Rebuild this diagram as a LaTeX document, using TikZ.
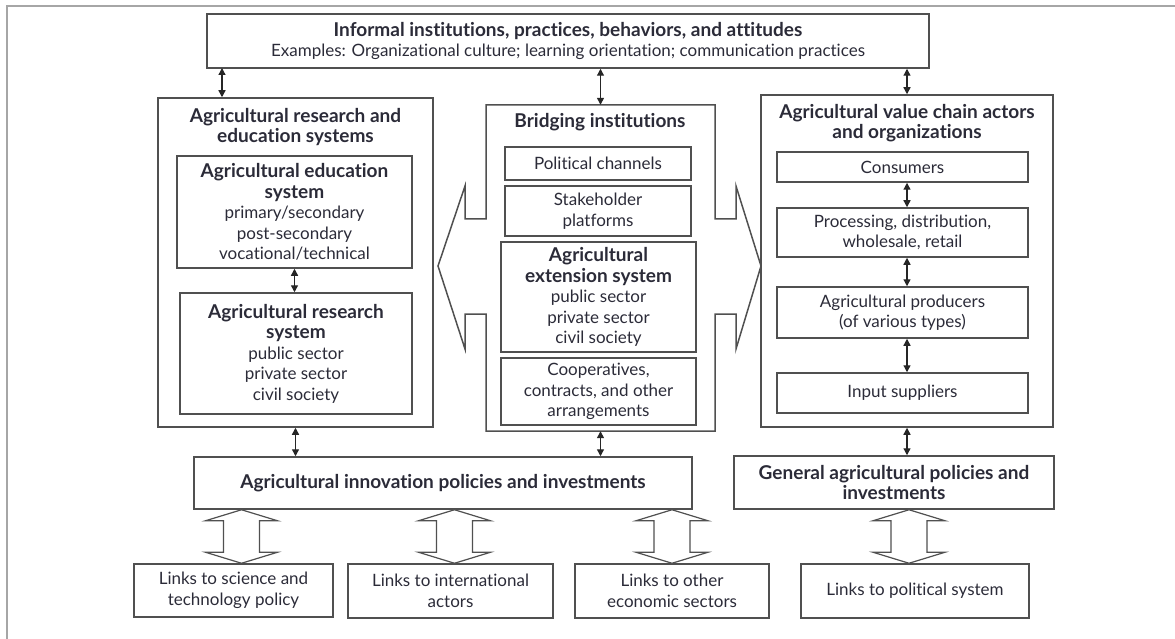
\documentclass[tikz,border=0pt]{standalone}
\usepackage{fontspec}
\setmainfont{Lato}[Ligatures=NoCommon,BoldFeatures={Scale=1.12}]
\usetikzlibrary{arrows.meta,calc}
\definecolor{ink}{HTML}{2B2B38}
\definecolor{edgegray}{HTML}{505050}

\begin{document}
\begin{tikzpicture}[x=1pt,y=-1pt,font=\fontsize{17}{20.5}\selectfont,text=ink]
            \tikzstyle{box} = [draw=edgegray,line width=1.5,inner sep=0,align=center]
            \tikzstyle{title} = [inner sep=0,align=center,font=\fontsize{17}{20.5}\selectfont\bfseries]
            \tikzstyle{dbl} = [draw=black!85,line width=1.3,{Triangle[length=7pt,width=7pt]}-{Triangle[length=7pt,width=7pt]}]
            \tikzstyle{hollow} = [draw=edgegray,line width=1.2,fill=white]
            
            \useasboundingbox (0,0) rectangle (1175,639);
            \draw[gray!70,line width=2.5] (7,639) -- (7,6) -- (1175,6);
            
            \node[box,minimum width=722,minimum height=54] (inf) at (568,41) {\textbf{Informal institutions, practices, behaviors, and attitudes}\\Examples: Organizational culture; learning orientation; communication practices};
            
            \node[box,minimum width=275,minimum height=329] (res) at (295.5,262.5) {};
            \node[title] (restitle) at (295.5,127) {Agricultural research and\\education systems};
            \node[box,minimum width=235,minimum height=112] (edu) at (294.5,212) {\textbf{Agricultural education}\\\textbf{system}\\primary/secondary\\post-secondary\\vocational/technical};
            \node[box,minimum width=232,minimum height=121] (rsys) at (296,353.5) {\textbf{Agricultural research}\\\textbf{system}\\public sector\\private sector\\civil society};
            
            \node[minimum width=229,minimum height=326,inner sep=0] (bri) at (600.5,268) {};
            \draw[edgegray,line width=1.5] (486,105) -- (715,105) -- (715,219) -- (736,219) -- (736,186) -- (761,266) -- (736,349) -- (736,314) -- (715,314) -- (715,431) -- (486,431) -- (486,314) -- (465,314) -- (465,349) -- (438,266) -- (465,186) -- (465,219) -- (486,219) -- cycle;
            \node[title] (brititle) at (600,122) {Bridging institutions};
            \node[box,minimum width=186,minimum height=33] (polch) at (598,163.5) {Political channels};
            \node[box,minimum width=186,minimum height=50] (stake) at (598,211) {Stakeholder\\platforms};
            \node[box,minimum width=195,minimum height=110] (ext) at (598.5,297) {\textbf{Agricultural}\\\textbf{extension system}\\public sector\\private sector\\civil society};
            \node[box,minimum width=195,minimum height=67] (coop) at (598.5,391.5) {Cooperatives,\\contracts, and other\\arrangements};
            
            \node[box,minimum width=292,minimum height=332] (val) at (907,261) {};
            \node[title] (valtitle) at (907,123) {Agricultural value chain actors\\and organizations};
            \node[box,minimum width=251,minimum height=30] (cons) at (902.5,167) {Consumers};
            \node[box,minimum width=251,minimum height=49] (proc) at (902.5,232.5) {Processing, distribution,\\wholesale, retail};
            \node[box,minimum width=251,minimum height=51] (prod) at (902.5,312.5) {Agricultural producers\\(of various types)};
            \node[box,minimum width=251,minimum height=40] (inp) at (902.5,393) {Input suppliers};
            
            \node[box,minimum width=498,minimum height=52] (pol) at (443,483) {\textbf{Agricultural innovation policies and investments}};
            \node[box,minimum width=320,minimum height=53] (gen) at (894,482.5) {\textbf{General agricultural policies and}\\\textbf{investments}};
            \node[box,minimum width=199,minimum height=53] (lsci) at (233.5,590.5) {Links to science and\\technology policy};
            \node[box,minimum width=205,minimum height=54] (lint) at (450.5,591) {Links to international\\actors};
            \node[box,minimum width=194,minimum height=54] (loth) at (672,591) {Links to other\\economic sectors};
            \node[box,minimum width=228,minimum height=54] (lpol) at (915,591) {Links to political system};
            
            \coordinate (infl) at (222,68);
            \draw[dbl] (infl) -- (infl |- res.north);
            \draw[dbl] (inf.south -| bri.north) -- (bri.north);
            \draw[dbl] (inf.south -| val.north) -- (val.north);
            \draw[dbl] (edu.south) -- (edu.south |- rsys.north);
            \draw[dbl] (cons.south -| val.north) -- (proc.north -| val.north);
            \draw[dbl] (proc.south -| val.north) -- (prod.north -| val.north);
            \draw[dbl] (prod.south -| val.north) -- (inp.north -| val.north);
            \draw[dbl] (res.south) -- (res.south |- pol.north);
            \draw[dbl] (bri.south) -- (bri.south |- pol.north);
            \draw[dbl] (val.south) -- (val.south |- gen.north);
            
            \foreach \l/\p/\dx in {lsci/pol/8, lint/pol/4, loth/pol/0, lpol/gen/-6}
                \draw[hollow] ($(\l.north)+(\dx,0)$) -- ++(-36,-11) -- ++(18,0) -- ($(\l.north |- \p.south)+(\dx-18,11)$) -- ++(-18,0) -- ($(\l.north |- \p.south)+(\dx,0)$) -- ++(36,11) -- ++(-18,0) -- ($(\l.north)+(\dx+18,-11)$) -- ++(18,0) -- cycle;
        \end{tikzpicture}
\end{document}
